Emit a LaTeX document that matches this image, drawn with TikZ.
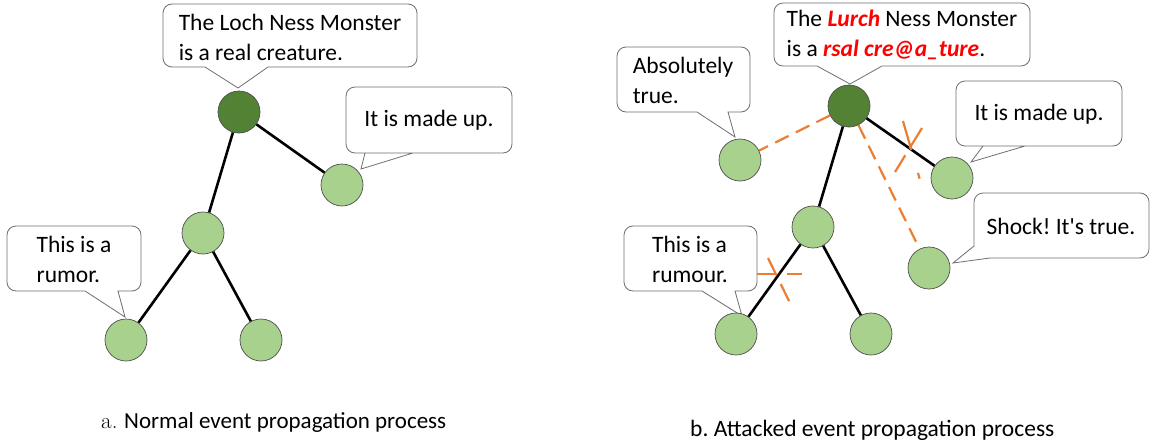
\documentclass[tikz,border=0pt]{standalone}
\usepackage{fontspec}
\setsansfont{Carlito}
\newfontfamily\plaincarlito{Carlito}
\usetikzlibrary{calc}
\definecolor{darkg}{HTML}{548235}
\definecolor{lightg}{HTML}{A9D18E}
\definecolor{attk}{HTML}{ED7D31}
\definecolor{boxline}{HTML}{6E6E6E}
\frenchspacing
\newcommand\calloutB[8]{%
  \draw[callout] ({(#1+#3)/2},#2) [rounded corners=9pt] -- (#3,#2) -- (#3,#4) [sharp corners] -- (#6,#4) -- (#7,#8) -- (#5,#4) [rounded corners=9pt] -- (#1,#4) -- (#1,#2) -- cycle;}
\begin{document}
\begin{tikzpicture}[x=1pt,y=-1pt,
  callout/.style={draw=boxline,line width=0.8pt,fill=white},
  root/.style={circle,minimum size=42pt,inner sep=0pt,fill=darkg,draw=black!70,line width=0.7pt},
  leaf/.style={circle,minimum size=42pt,inner sep=0pt,fill=lightg,draw=black!70,line width=0.7pt},
  edge/.style={line width=2.6pt,black},
  attack/.style={line width=2.2pt,attk,dash pattern=on 15pt off 8pt},
  ctext/.style={font=\sffamily\fontsize{23.5}{30}\selectfont,align=left,inner sep=0pt},
  captext/.style={font=\sffamily\fontsize{23}{26}\selectfont,inner sep=0pt,anchor=base west}]
\useasboundingbox (0,0) rectangle (1154,442);
% ---------- panel a ----------
\calloutB{163}{4}{417}{67}{205}{268}{238}{88}
\node[ctext] (ta) at (290,37) {The Loch Ness Monster\\is a real creature.};
\calloutB{346}{87}{512}{153}{413}{365}{361}{169}
\node[ctext] (ma) at (429,120) {It is made up.};
\calloutB{7}{226}{141}{291}{85}{118}{125}{317}
\node[ctext] (ra) at (74,259) {This is a\\rumor.};
\node[root] (a0) at (239,112) {};
\node[leaf] (a1) at (342,185) {};
\node[leaf] (a2) at (203,233) {};
\node[leaf] (a3) at (126,340) {};
\node[leaf] (a4) at (261,340) {};
\draw[edge] (a0) -- (a1);
\draw[edge] (a0) -- (a2);
\draw[edge] (a2) -- (a3);
\draw[edge] (a2) -- (a4);
% ---------- panel b ----------
\calloutB{774}{3}{1030}{66}{817}{882}{850}{84}
\node[ctext] (tb) at (902,35) {The \textcolor{red}{\textbf{\textit{Lurch}}} Ness Monster\\is a \textcolor{red}{\textbf{\textit{rsal cre@a\_ture}}}.};
\calloutB{617}{47}{750}{112}{697}{728}{735}{137}
\node[ctext] (ab) at (683,80) {Absolutely\\true.};
\calloutB{956}{81}{1122}{146}{1025}{983}{971}{162}
\node[ctext] (mb) at (1039,114) {It is made up.};
\draw[callout] (1061,193) [rounded corners=9pt] -- (1149,193) -- (1149,258) [sharp corners] -- (990,258) -- (953,263) -- (974,246) [rounded corners=9pt] -- (974,193) -- cycle;
\node[ctext] (sb) at (1061,226) {Shock! It{\plaincarlito'}s true.};
\calloutB{624}{226}{757}{291}{702}{735}{742}{316}
\node[ctext] (rb) at (690,259) {This is a\\rumour.};
\node[root] (b0) at (849,106) {};
\node[leaf] (b5) at (740,160) {};
\node[leaf] (b1) at (952,178) {};
\node[leaf] (b6) at (929,268) {};
\node[leaf] (b2) at (813,227) {};
\node[leaf] (b3) at (736,334) {};
\node[leaf] (b4) at (871,334) {};
\draw[edge] (b0) -- (b1);
\draw[edge] (b0) -- (b2);
\draw[edge] (b2) -- (b3);
\draw[edge] (b2) -- (b4);
\draw[attack] (b0) -- (b5);
\draw[attack] (b0) -- (b6);
% crosses
\coordinate (x1a) at (903,121); \coordinate (x1b) at (920,180);
\coordinate (x2a) at (922,128); \coordinate (x2b) at (895,172);
\draw[attack,dash pattern=on 30pt off 24pt on 6pt] (x1a) -- (x1b);
\draw[attack,dash pattern=on 24pt off 8pt] (x2a) -- (x2b);
\coordinate (x3a) at (757,274); \coordinate (x3b) at (802,274);
\coordinate (x4a) at (768,258); \coordinate (x4b) at (790,303);
\draw[attack,dash pattern=on 18pt off 12pt] (x3a) -- (x3b);
\draw[attack,dash pattern=on 19pt off 10pt] (x4a) -- (x4b);
% captions
\node[captext,font=\rmfamily\fontsize{23}{26}\selectfont] (ca0) at (101,428) {a.};
\node[captext] (ca) at (124,428) {Normal event propagation process};
\node[captext,font=\sffamily\fontsize{23.5}{26}\selectfont] (cb) at (690,436) {b. Attacked event propagation process};
\end{tikzpicture}
\end{document}
